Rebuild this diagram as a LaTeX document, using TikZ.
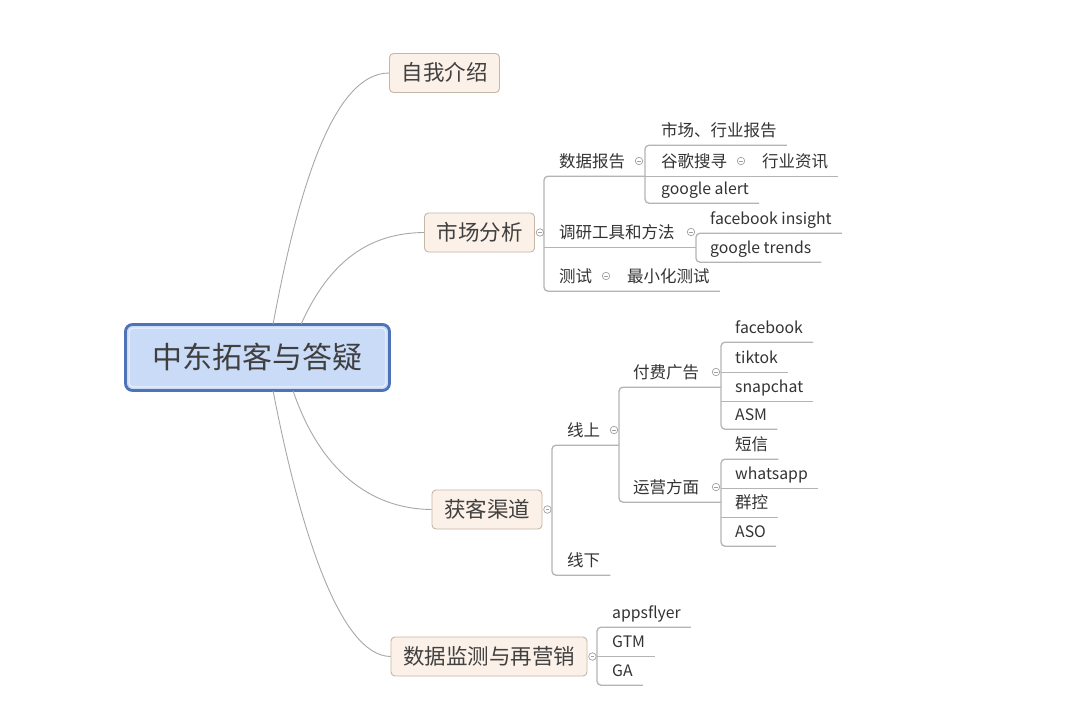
\documentclass[tikz,border=0pt]{standalone}
\usepackage{fontspec}
\setmainfont{Noto Sans CJK SC}
\usetikzlibrary{calc}
\definecolor{txt}{HTML}{333333}
\definecolor{txttwo}{HTML}{404040}
\definecolor{ctext}{HTML}{3F3F3F}
\definecolor{cblue}{HTML}{4E73B6}
\definecolor{cfill}{HTML}{C9DBF7}
\definecolor{cinner}{HTML}{EEF4FD}
\definecolor{boxline}{HTML}{C6B6A6}
\definecolor{boxfill}{HTML}{FCF1E8}
\definecolor{lgray}{HTML}{A8A8A8}
\definecolor{ugray}{HTML}{B4B4B4}
\definecolor{cgray}{HTML}{A0A0A0}
\begin{document}
\begin{tikzpicture}[x=1pt,y=-1pt,
  rootbox/.style={draw=cblue, fill=cfill, line width=2.8pt, rounded corners=7pt,
    minimum width=264pt, minimum height=66pt, inner sep=0pt,
    font=\fontsize{30}{32}\selectfont, text=ctext, text height=22pt, text depth=0pt},
  lvltwo/.style={draw=boxline, fill=boxfill, line width=0.9pt, rounded corners=4pt,
    minimum height=39pt, inner xsep=12pt, inner ysep=0pt,
    font=\fontsize{21.5}{23}\selectfont, text=txttwo, text height=15.5pt, text depth=0pt},
  leaf/.style={anchor=west, inner xsep=0pt, inner ysep=0pt, text height=12pt, text depth=0pt,
    minimum height=30pt, font=\fontsize{16.5}{18}\selectfont, text=txt},
  latin/.style={leaf, font=\fontsize{15.8}{18}\selectfont},
  conn/.style={draw=lgray, line width=0.9pt},
  uline/.style={draw=ugray, line width=1.3pt, rounded corners=4pt},
  coll/.style={circle, draw=cgray, fill=white, line width=0.7pt, minimum size=7.5pt, inner sep=0pt,
    path picture={\draw[cgray, line width=0.6pt]
      ([xshift=-1.7pt]path picture bounding box.center) -- ([xshift=1.7pt]path picture bounding box.center);}}
]
\useasboundingbox[fill=white] (0,0) rectangle (1080,701);

% root
\node[rootbox] (c) at (257.5,357.5) {中东拓客与答疑};
\draw[cinner, line width=1pt, rounded corners=4pt] ($(c.north west)+(5,5)$) rectangle ($(c.south east)+(-5,-5)$);
\coordinate (s1) at ($(c.north west)+(149,1)$);
\coordinate (s2) at ($(c.north west)+(177,1)$);
\coordinate (s3) at ($(c.south west)+(169,-1)$);
\coordinate (s4) at ($(c.south west)+(149,-1)$);

% level two
\node[lvltwo] (n1) at (444.5,73) {自我介绍};
\node[lvltwo] (n2) at (479.5,232.5) {市场分析};
\node[lvltwo] (n3) at (487,509.5) {获客渠道};
\node[lvltwo] (n4) at (489,656.5) {数据监测与再营销};

\draw[conn] (s1) .. controls (297,195) and (332,73) .. (n1.west);
\draw[conn] (s2) .. controls (330,260) and (370,233) .. (n2.west);
\draw[conn] (s3) .. controls (320,470) and (370,509) .. (n3.west);
\draw[conn] (s4) .. controls (300,530) and (340,656) .. (n4.west);

% bracket x positions
\coordinate (b0) at (544,0);
\coordinate (b1) at (645,0);
\coordinate (b2) at (696,0);
\coordinate (b3) at (552,0);
\coordinate (b4) at (619,0);
\coordinate (b5) at (721,0);
\coordinate (b6) at (597,0);

% ---------- 市场分析 ----------
\node[leaf] (a1) at (559,161) {数据报告};
\node[leaf] (a11) at (661,130) {市场、行业报告};
\node[leaf] (a12) at (661,161) {谷歌搜寻};
\node[leaf] (a121) at (762,161) {行业资讯};
\node[latin] (a13) at (661,188) {google alert};
\node[leaf] (a2) at (559,232) {调研工具和方法};
\node[latin] (a21) at (710,218) {facebook insight};
\node[latin] (a22) at (710,247) {google trends};
\node[leaf] (a3) at (559,276) {测试};
\node[leaf] (a31) at (627,276) {最小化测试};

\draw[uline] (a1.south -| b1) -| (a3.south -| b0) -- ($(a31.south east)+(10,0)$);
\draw[uline] (a2.south -| b0) -- (a2.south -| b2);
\draw[uline] ($(a11.south east)+(10,0)$) -| (a13.south -| b1) -- ($(a13.south east)+(10,0)$);
\draw[uline] (a12.south -| b1) -- ($(a121.south east)+(10,0)$);
\draw[uline] ($(a21.south east)+(10,0)$) -| (a22.south -| b2) -- ($(a22.south east)+(10,0)$);

\node[coll] (k2) at ($(n2.east)+(5,0)$) {};
\node[coll] (ka1) at (639,161) {};
\node[coll] (ka12) at (741,161) {};
\node[coll] (ka2) at (691,232) {};
\node[coll] (ka3) at (606,276) {};

% ---------- 获客渠道 ----------
\node[leaf] (h1) at (567,430) {线上};
\node[leaf] (h2) at (567,560) {线下};
\node[leaf] (h11) at (633,372) {付费广告};
\node[leaf] (h12) at (633,487) {运营方面};
\node[latin] (p1) at (735,327) {facebook};
\node[latin] (p2) at (735,357) {tiktok};
\node[latin] (p3) at (735,386) {snapchat};
\node[latin] (p4) at (735,414) {ASM};
\node[leaf] (q1) at (735,444) {短信};
\node[latin] (q2) at (735,473) {whatsapp};
\node[leaf] (q3) at (735,502) {群控};
\node[latin] (q4) at (735,531) {ASO};

\draw[uline] (h1.south -| b4) -| (h2.south -| b3) -- ($(h2.south east)+(10,0)$);
\draw[uline] (h11.south -| b5) -| (h12.south -| b4) -- (h12.south -| b5);
\draw[uline] ($(p1.south east)+(10,0)$) -| (p4.south -| b5) -- ($(p4.south east)+(10,0)$);
\draw[uline] (p2.south -| b5) -- ($(p2.south east)+(10,0)$);
\draw[uline] (p3.south -| b5) -- ($(p3.south east)+(10,0)$);
\draw[uline] ($(q1.south east)+(10,0)$) -| (q4.south -| b5) -- ($(q4.south east)+(10,0)$);
\draw[uline] (q2.south -| b5) -- ($(q2.south east)+(10,0)$);
\draw[uline] (q3.south -| b5) -- ($(q3.south east)+(10,0)$);

\node[coll] (k3) at ($(n3.east)+(5,0)$) {};
\node[coll] (kh1) at (614,430) {};
\node[coll] (kh11) at (716,372) {};
\node[coll] (kh12) at (716,487) {};

% ---------- 数据监测与再营销 ----------
\node[latin] (d1) at (612,612) {appsflyer};
\node[latin] (d2) at (612,641) {GTM};
\node[latin] (d3) at (612,670) {GA};

\draw[uline] ($(d1.south east)+(10,0)$) -| (d3.south -| b6) -- ($(d3.south east)+(10,0)$);
\draw[uline] (d2.south -| b6) -- ($(d2.south east)+(10,0)$);

\node[coll] (k4) at ($(n4.east)+(5,0)$) {};
\end{tikzpicture}
\end{document}
